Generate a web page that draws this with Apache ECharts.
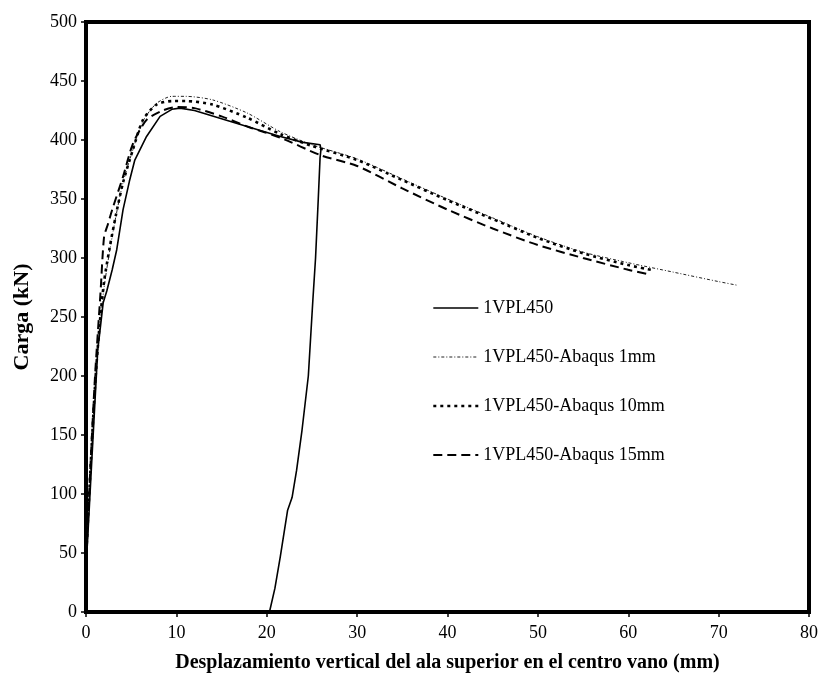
<!DOCTYPE html>
<html>
<head>
<meta charset="utf-8">
<script src="https://cdn.jsdelivr.net/npm/echarts@6/dist/echarts.min.js"></script>
<style>
  html, body { margin: 0; padding: 0; background: #fff; }
  #chart { width: 822px; height: 679px; }
</style>
</head>
<body>
<div id="chart"></div>
<script>
// Load–displacement curves: [displacement (mm), load (kN)]
const seriesNames = [
  '1VPL450',
  '1VPL450-Abaqus 1mm',
  '1VPL450-Abaqus 10mm',
  '1VPL450-Abaqus 15mm'
];

// Test curve: loading branch, then unloading
const test1VPL450 = [
  [0.1, 50], [0.7, 137], [1.3, 222], [1.9, 262], [2.3, 272], [2.9, 290],
  [3.4, 307], [4.1, 341], [4.8, 365], [5.4, 383], [6.7, 403], [8.2, 420],
  [9.5, 426], [10.4, 427], [12, 425], [15, 418], [18, 411], [21.5, 403],
  [24, 398], [25.9, 396], [26.0, 392], [25.9, 385], [25.7, 350],
  [25.4, 300], [25.1, 264], [24.6, 200], [23.9, 154], [23.3, 120],
  [22.8, 97], [22.3, 86], [21.5, 47], [20.9, 20], [20.3, 0]
];

const abaqus1mm = [
  [0.05, 55], [0.5, 120], [1.0, 190], [1.5, 240], [2.0, 275], [2.6, 305],
  [3.3, 335], [4.1, 364], [5.2, 392], [6.3, 416], [7.8, 431], [9.5, 437],
  [11, 437], [14, 434], [17.8, 423], [21.5, 407], [25, 396], [30, 384],
  [35, 367], [40, 350], [45, 334], [50, 318], [55, 305], [60, 296],
  [65, 288], [70, 280], [72, 277]
];

const abaqus10mm = [
  [0.05, 52], [0.5, 122], [1.0, 192], [1.5, 243], [2.0, 280], [2.6, 308],
  [3.3, 336], [4.1, 364], [5.2, 392], [6.3, 417], [7.8, 430], [9.6, 433],
  [11, 433], [14, 430], [17.8, 419], [21.5, 405], [25, 395], [30, 383],
  [35, 366], [40, 349], [45, 333], [50, 317], [55, 304], [60, 294],
  [62.5, 290]
];

const abaqus15mm = [
  [0.05, 50], [0.5, 125], [1.0, 200], [1.6, 270], [2.0, 318], [2.4, 328],
  [2.9, 341], [4.1, 369], [5.2, 397], [6.7, 417], [8.5, 425], [10, 428],
  [12, 427], [15, 420], [18, 411], [21.5, 402], [26, 387], [30, 378],
  [35, 359], [40, 341], [45, 325], [50, 311], [55, 300], [60, 290],
  [62.4, 286]
];

const xTicks = { min: 0, max: 80, interval: 10 };
const yTicks = { min: 0, max: 500, interval: 50 };

const serif = 'Liberation Serif, Times New Roman, serif';

// Line looks shared by the plotted curves and their legend keys
const lineLooks = [
  { color: '#000', width: 1.6, type: 'solid' },
  { color: '#222', width: 1, type: [3, 2, 1, 2] },
  { color: '#000', width: 2.6, type: [3, 4] },
  { color: '#000', width: 2, type: [9, 5] }
];
const curves = [test1VPL450, abaqus1mm, abaqus10mm, abaqus15mm];

const chart = echarts.init(document.getElementById('chart'), null, { renderer: 'canvas' });

chart.setOption({
  backgroundColor: '#ffffff',
  animation: false,
  grid: {
    left: 86, right: 13, top: 22, bottom: 67,
    show: true, borderColor: '#000', borderWidth: 4, backgroundColor: '#fff'
  },
  legend: {
    orient: 'vertical',
    left: 427, top: 294,
    itemWidth: 45, itemHeight: 14, itemGap: 31,
    itemStyle: { opacity: 0 },
    textStyle: { fontFamily: serif, fontSize: 18, color: '#000', lineHeight: 18 },
    data: seriesNames.map((name, i) => ({
      name,
      lineStyle: { color: lineLooks[i].color, width: lineLooks[i].width, type: lineLooks[i].type }
    }))
  },
  xAxis: {
    type: 'value',
    min: xTicks.min, max: xTicks.max, interval: xTicks.interval,
    name: 'Desplazamiento vertical del ala superior en el centro vano (mm)',
    nameLocation: 'middle', nameGap: 41,
    nameTextStyle: { fontFamily: serif, fontSize: 20, fontWeight: 'bold', color: '#000' },
    axisLine: { show: true, lineStyle: { color: '#000', width: 4 } },
    axisTick: { show: true, length: 5, lineStyle: { color: '#000', width: 1.5 } },
    axisLabel: { fontFamily: serif, fontSize: 18, color: '#000', margin: 12 },
    splitLine: { show: false }
  },
  yAxis: {
    type: 'value',
    min: yTicks.min, max: yTicks.max, interval: yTicks.interval,
    name: 'Carga (kN)',
    nameLocation: 'middle', nameGap: 53, nameRotate: 90,
    nameTextStyle: { fontFamily: serif, fontSize: 22, fontWeight: 'bold', color: '#000' },
    axisLine: { show: true, lineStyle: { color: '#000', width: 4 } },
    axisTick: { show: true, length: 5, lineStyle: { color: '#000', width: 1.5 } },
    axisLabel: { fontFamily: serif, fontSize: 18, color: '#000', margin: 9 },
    splitLine: { show: false }
  },
  series: seriesNames.map((name, i) => ({
    name,
    type: 'line',
    data: curves[i],
    showSymbol: false,
    symbol: 'none',
    smooth: i === 0 ? false : 0.25,
    lineStyle: lineLooks[i],
    itemStyle: { color: lineLooks[i].color },
    z: i === 0 ? 4 : 3
  }))
});
</script>
</body>
</html>
